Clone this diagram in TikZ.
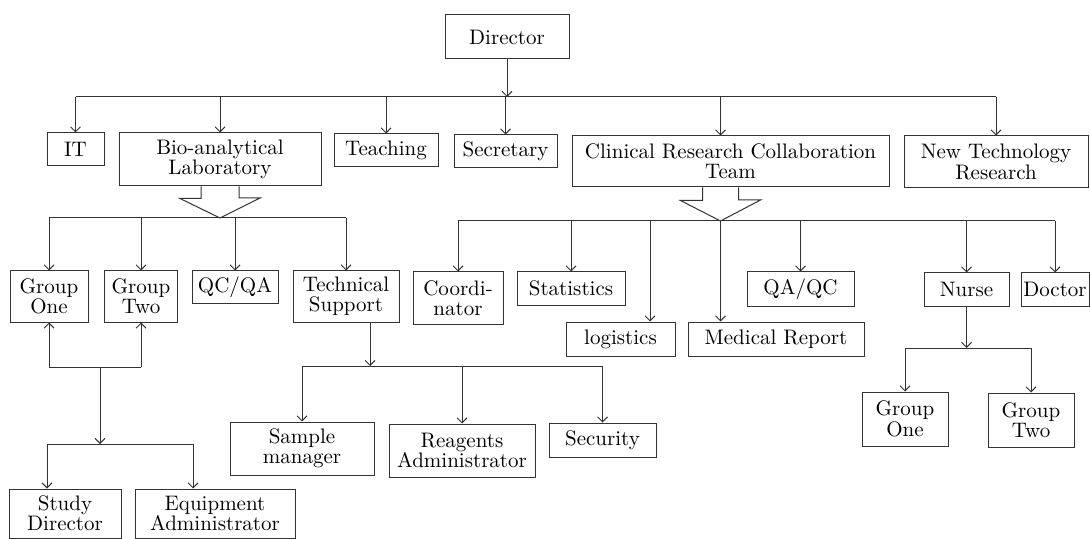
\documentclass[tikz,border=0pt]{standalone}
\usetikzlibrary{arrows.meta}
\begin{document}
\begin{tikzpicture}[x=0.5pt,y=-0.5pt,
    unit/.style={draw=black!80, line width=0.5pt, align=center, inner sep=1pt,
      font=\fontsize{10.5}{10.2}\selectfont},
    sz/.style 2 args={minimum width=#1*0.5pt, minimum height=#2*0.5pt},
    link/.style={draw=black!80, line width=0.5pt, -{Straight Barb[length=2.5pt,width=5pt]}},
    bus/.style={draw=black!80, line width=0.5pt},
    hollow/.style={draw=black!80, line width=0.5pt, line join=miter}]
    \useasboundingbox (0,0) rectangle (1090,539);

    % top level
    \node[unit, sz={124}{44}] (director) at (507,37) {Director};
    \node[unit, sz={57}{33}] (it) at (75.5,149.5) {IT};
    \node[unit, sz={202}{53}] (bio) at (220,159.5) {Bio-analytical\\Laboratory};
    \node[unit, sz={104}{33}] (teaching) at (386,150.5) {Teaching};
    \node[unit, sz={103}{33}] (secretary) at (505.5,151.5) {Secretary};
    \node[unit, sz={317}{51}] (clinical) at (730.5,161.5) {Clinical Research Collaboration\\Team};
    \node[unit, sz={184}{52}] (newtech) at (996,162) {New Technology\\Research};

    % laboratory
    \node[unit, sz={78}{51}] (labone) at (49,296.5) {Group\\One};
    \node[unit, sz={73}{51}] (labtwo) at (141,296.5) {Group\\Two};
    \node[unit, sz={86}{32}] (qcqa) at (235,287) {QC/QA};
    \node[unit, sz={106}{51}] (tech) at (346,296.5) {Technical\\Support};
    \node[unit, sz={112}{49}] (studydir) at (65,513.5) {Study\\Director};
    \node[unit, sz={160}{49}] (equip) at (215,513.5) {Equipment\\Administrator};
    \node[unit, sz={144}{53}] (sample) at (302,448.5) {Sample\\manager};
    \node[unit, sz={146}{53}] (reagents) at (462,450.5) {Reagents\\Administrator};
    \node[unit, sz={107}{34}] (security) at (602.5,440) {Security};

    % clinical team
    \node[unit, sz={90}{52}] (coord) at (458,298) {Coordi-\\nator};
    \node[unit, sz={108}{33}] (stats) at (571,288.5) {Statistics};
    \node[unit, sz={109}{34}] (logistics) at (620.5,339) {logistics};
    \node[unit, sz={176}{34}] (medrep) at (776,339) {Medical Report};
    \node[unit, sz={107}{34}] (qaqc) at (800.5,289) {QA/QC};
    \node[unit, sz={85}{33}] (nurse) at (966.5,289.5) {Nurse};
    \node[unit, sz={68}{33}] (doctor) at (1055,289.5) {Doctor};
    \node[unit, sz={86}{54}] (nurseone) at (905,419) {Group\\One};
    \node[unit, sz={86}{54}] (nursetwo) at (1031,420) {Group\\Two};

    % bus heights
    \coordinate (b1) at (0,97);
    \coordinate (b2) at (0,218);
    \coordinate (b3) at (0,221);
    \coordinate (b4) at (0,366);
    \coordinate (b5) at (0,367);
    \coordinate (b6) at (0,444);
    \coordinate (b7) at (0,348);
    \coordinate (crs) at ([xshift=-5pt]clinical.south);
    \coordinate (tss) at ([xshift=12pt]tech.south);
    \coordinate (lgn) at ([xshift=14.75pt]logistics.north);
    \coordinate (sdn) at ([xshift=-9pt]studydir.north);
    \coordinate (eqn) at ([xshift=-11pt]equip.north);
    \coordinate (mg) at (100,367);

    % director
    \draw[link] (director.south) -- (director |- b1);
    \draw[bus] (it |- b1) -- (newtech |- b1);
    \foreach \n in {it,bio,teaching,secretary,newtech}
        \draw[link] (\n |- b1) -- (\n.north);
    \draw[link] (crs |- b1) -- (clinical.north -| crs);

    % laboratory
    \draw[hollow] ([xshift=-9.5pt]bio.south) -- ++(0,12) -- ++(-21,0) -- (bio.south |- b2)
        -- ++(40,-20) -- ++(-21,0) -- ([xshift=9.5pt]bio.south);
    \draw[bus] (labone |- b2) -- (tech |- b2);
    \foreach \n in {labone,labtwo,qcqa,tech}
        \draw[link] (\n |- b2) -- (\n.north);
    \draw[bus] (labone |- b5) -- (labtwo |- b5);
    \draw[link] (labone |- b5) -- (labone.south);
    \draw[link] (labtwo |- b5) -- (labtwo.south);
    \draw[link] (mg) -- (mg |- b6);
    \draw[bus] (sdn |- b6) -- (eqn |- b6);
    \draw[link] (sdn |- b6) -- (sdn);
    \draw[link] (eqn |- b6) -- (eqn);
    \draw[link] (tss) -- (tss |- b4);
    \draw[bus] (sample |- b4) -- (security |- b4);
    \foreach \n in {sample,reagents,security}
        \draw[link] (\n |- b4) -- (\n.north);

    % clinical team
    \draw[hollow] ([xshift=-9pt]crs) -- ++(0,13) -- ++(-22,0) -- (crs |- b3)
        -- ++(40,-21) -- ++(-22,0) -- ([xshift=9pt]crs);
    \draw[bus] (coord |- b3) -- (doctor |- b3);
    \foreach \n in {coord,stats,qaqc,nurse,doctor}
        \draw[link] (\n |- b3) -- (\n.north);
    \draw[link] (lgn |- b3) -- (lgn);
    \draw[link] (crs |- b3) -- (medrep.north -| crs);
    \draw[link] (nurse.south) -- (nurse |- b7);
    \draw[bus] (nurseone |- b7) -- (nursetwo |- b7);
    \draw[link] (nurseone |- b7) -- (nurseone.north);
    \draw[link] (nursetwo |- b7) -- (nursetwo.north);
\end{tikzpicture}
\end{document}
